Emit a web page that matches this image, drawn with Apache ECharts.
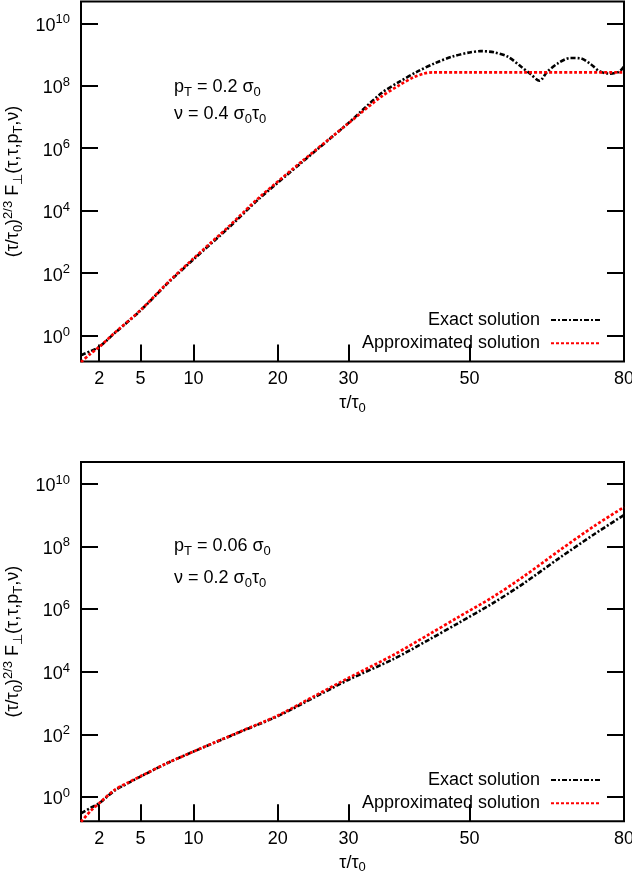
<!DOCTYPE html>
<html>
<head>
<meta charset="utf-8">
<title>Exact and approximated solution of F⊥</title>
<script src="https://cdn.jsdelivr.net/npm/echarts@6.0.0/dist/echarts.min.js"></script>
<style>
html, body { margin: 0; padding: 0; background: #fff; }
#chart { width: 632px; height: 882px; }
</style>
</head>
<body>
<div id="chart"></div>
<script>
// ---- data -------------------------------------------------------------
// Tick labels on the tau/tau0 axis and exponents of the decade ticks.
const tauTicks = [2, 5, 10, 20, 30, 50, 80];
const decadeTicks = [0, 2, 4, 6, 8, 10];

// Upper panel: pT = 0.2 sigma0, nu = 0.4 sigma0 tau0
const tauExactA = [1, 1.5, 2, 3, 5, 7.5, 10, 14, 17.5, 23, 30, 35, 38, 41, 44, 47, 50, 52,
                   54.5, 57, 59.5, 61.2, 63, 64.5, 66.5, 69, 71, 73, 75, 77, 79, 80];
const exactA = [0.234, 0.316, 0.427, 1.17, 6.31, 50.1, 275, 3.02e3, 2.29e4, 3.16e5, 6.46e6, 5.62e7,
                1.35e8, 2.88e8, 5.37e8, 8.71e8, 1.17e9, 1.29e9, 1.17e9, 8.51e8, 4.07e8, 2.45e8,
                1.45e8, 2.82e8, 5.13e8, 7.76e8, 7.59e8, 5.13e8, 2.88e8, 2.45e8, 2.82e8, 4.17e8];
const tauApproxA = [1, 1.5, 2, 3, 5, 7.5, 10, 14, 17.5, 23, 30, 35, 38, 40.3, 42, 43.5, 50, 60, 70, 80];
const approxA = [0.141, 0.263, 0.427, 1.20, 6.46, 52.5, 295, 3.31e3, 2.51e4, 3.39e5, 6.31e6, 4.37e7,
                 1.05e8, 1.86e8, 2.45e8, 2.7e8, 2.7e8, 2.7e8, 2.7e8, 2.7e8];

// Lower panel: pT = 0.06 sigma0, nu = 0.2 sigma0 tau0
const tauB = [1, 1.5, 2, 3, 4, 5, 7.5, 10, 15, 20, 25, 30, 37, 43, 48, 54, 60, 67, 74, 80];
const exactB = [0.302, 0.447, 0.631, 1.58, 2.75, 4.47, 12.6, 28.2, 112, 380, 1.51e3, 5.50e3,
                2.51e4, 1.07e5, 3.55e5, 1.45e6, 6.61e6, 4.37e7, 2.51e8, 1.0e9];
const approxB = [0.162, 0.355, 0.631, 1.66, 2.88, 4.57, 12.6, 28.2, 115, 398, 1.66e3, 6.31e3,
                 3.39e4, 1.58e5, 5.50e5, 2.29e6, 1.10e7, 7.59e7, 4.57e8, 1.78e9];

// ---- helpers ----------------------------------------------------------
const FONT = '"Liberation Sans", Arial, Helvetica, sans-serif';
// horizontal axis runs linearly in (tau/tau0)^(2/3); vertical axis in log10 F
const toU = t => Math.pow(t, 2 / 3);
const pairs = (taus, vals) => taus.map((t, i) => [toU(t), Math.log10(vals[i])]);

const sub = { fontSize: 13, fontFamily: FONT, color: '#000', fill: '#000', padding: [10, 0, 0, 0] };
const sup = { fontSize: 13, fontFamily: FONT, color: '#000', fill: '#000', padding: [0, 0, 10, 0] };
const tickLine = { color: '#000', width: 2 };

const yRanges = [[-0.833, 10.70], [-0.776, 10.69]];
const grids = [
  { left: 81, top: 1.5, width: 543, height: 360 },
  { left: 81, top: 462, width: 543, height: 359.3 }
];

function xAxis(g) {
  return {
    type: 'value', gridIndex: g, min: 1, max: toU(80),
    name: 'τ/τ{sub|0}', nameLocation: 'middle', nameGap: 30,
    nameTextStyle: { fontSize: 18, fontFamily: FONT, color: '#000', rich: { sub } },
    axisLine: { show: false, onZero: false }, splitLine: { show: false },
    axisTick: { inside: true, length: 17, lineStyle: tickLine, customValues: tauTicks.map(toU) },
    axisLabel: {
      margin: 9, fontSize: 18, fontFamily: FONT, color: '#000',
      customValues: tauTicks.map(toU),
      formatter: v => String(Math.round(Math.pow(v, 1.5)))
    }
  };
}

function yAxis(g, side) {
  const left = side === 'left';
  return {
    type: 'value', gridIndex: g, position: side,
    min: yRanges[g][0], max: yRanges[g][1],
    name: left ? '(τ/τ{sub|0}){sup|2/3} F{sub|⊥}(τ,τ,p{sub|T},ν)' : '',
    nameLocation: 'middle', nameRotate: 90, nameGap: 50,
    nameTextStyle: { fontSize: 18, fontFamily: FONT, color: '#000', rich: { sub, sup } },
    axisLine: { show: false, onZero: false }, splitLine: { show: false },
    axisTick: { inside: true, length: 17, lineStyle: tickLine, customValues: decadeTicks },
    axisLabel: {
      show: left, margin: 11, customValues: decadeTicks,
      formatter: v => '{b|10}{s|' + v + '}',
      rich: {
        b: { fontSize: 18, fontFamily: FONT, color: '#000', padding: [5, 0, 0, 0] },
        s: { fontSize: 13, fontFamily: FONT, color: '#000', padding: [0, 0, 7, 0] }
      }
    }
  };
}

const exactStyle = { color: '#000', width: 2.6, type: [5, 2, 2, 2] };
const approxStyle = { color: '#ff0000', width: 2.7, type: [3, 2] };

function curve(name, g, data, style) {
  return {
    name, type: 'line', xAxisIndex: g, yAxisIndex: g * 2,
    data, symbol: 'none', smooth: 0.3,
    lineStyle: style, itemStyle: { color: style.color }
  };
}

function legend(top) {
  return {
    orient: 'vertical', align: 'right', right: 31, top, padding: 0,
    itemWidth: 49, itemHeight: 14, itemGap: 5.3,
    data: ['Exact solution', 'Approximated solution'],
    itemStyle: { opacity: 0 },
    textStyle: { fontSize: 18, fontFamily: FONT, color: '#000', padding: [0, 6, 0, 0] }
  };
}

function note(x, y, text) {
  return {
    type: 'text', x, y,
    style: { text, fontSize: 18, fontFamily: FONT, fill: '#000',
             align: 'left', verticalAlign: 'middle', rich: { sub } }
  };
}

const chart = echarts.init(document.getElementById('chart'), null, { renderer: 'canvas' });
chart.setOption({
  animation: false,
  backgroundColor: '#fff',
  grid: grids.map(g => Object.assign({
    show: true, borderColor: '#000', borderWidth: 2, backgroundColor: 'transparent',
    containLabel: false, outerBoundsMode: 'none'
  }, g)),
  xAxis: [xAxis(0), xAxis(1)],
  yAxis: [yAxis(0, 'left'), yAxis(0, 'right'), yAxis(1, 'left'), yAxis(1, 'right')],
  legend: [legend(311), legend(771)],
  series: [
    curve('Exact solution', 0, pairs(tauExactA, exactA), exactStyle),
    curve('Approximated solution', 0, pairs(tauApproxA, approxA), approxStyle),
    curve('Exact solution', 1, pairs(tauB, exactB), exactStyle),
    curve('Approximated solution', 1, pairs(tauB, approxB), approxStyle)
  ],
  graphic: [
    note(174, 87, 'p{sub|T} = 0.2 σ{sub|0}'),
    note(174, 114.5, 'ν = 0.4 σ{sub|0}τ{sub|0}'),
    note(174, 546.5, 'p{sub|T} = 0.06 σ{sub|0}'),
    note(174, 578, 'ν = 0.2 σ{sub|0}τ{sub|0}')
  ]
});
</script>
</body>
</html>
